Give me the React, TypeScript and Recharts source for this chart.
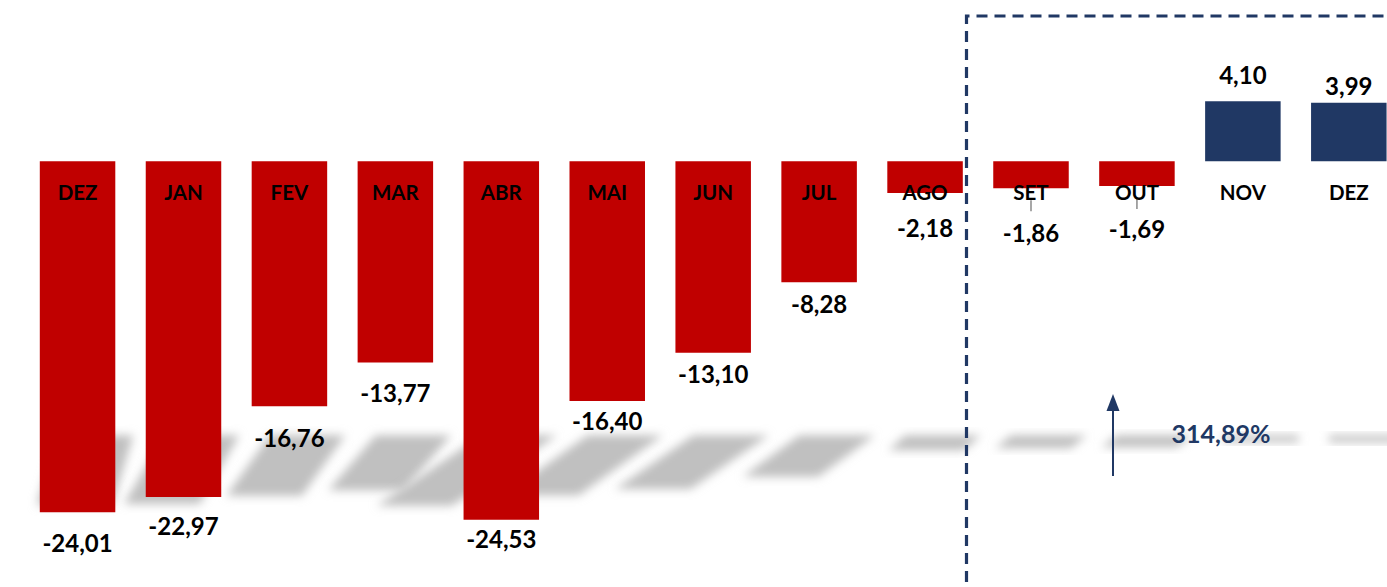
import React from "react";
import { Bar, BarChart, Cell, LabelList, XAxis, YAxis } from "recharts";

const months = ["DEZ", "JAN", "FEV", "MAR", "ABR", "MAI", "JUN", "JUL", "AGO", "SET", "OUT", "NOV", "DEZ"];
const values = [-24.01, -22.97, -16.76, -13.77, -24.53, -16.4, -13.1, -8.28, -2.18, -1.86, -1.69, 4.1, 3.99];
const variation = "314,89%";

// distance (px) between bar end and its value label, as placed in the original
const labelGap = [30, 29, 31, 30, 19, 20, 21, 21, 34, 44, 43, 27, 17];

const RED = "#C00000";
const NAVY = "#203864";
const FONT = "Lato, 'Open Sans', sans-serif";

const data = months.map((m, i) => ({ id: i, month: m, value: values[i] }));

const fmt = (v: number) => v.toFixed(2).replace(".", ",");

function box(p: any) {
  const vb = p.viewBox ?? p;
  const x = Number(vb.x);
  const y = Number(vb.y);
  const w = Number(vb.width);
  const h = Number(vb.height);
  return { x, w, top: Math.min(y, y + h), bottom: Math.max(y, y + h) };
}

// soft perspective "floor" shadow under each bar
function ShadowShape(p: any) {
  const { x, w, top, bottom } = box(p);
  const neg = values[p.index] < 0;
  const len = bottom - top;
  const zero = neg ? top : bottom;
  const floor = zero + 274;
  const off = 18;
  const h = neg ? (110 * len) / (len + 200) : 7;
  const lean = 0.06 + 0.00055 * (x - 40);
  const shift = neg ? len * lean : 0;
  const pts = [
    [x + off, floor],
    [x + w + off, floor],
    [x + w + off - shift, floor + h],
    [x + off - shift, floor + h],
  ]
    .map((q) => q.join(","))
    .join(" ");
  const id = `shadow-blur-${p.index}`;
  return (
    <g>
      <defs>
        <filter id={id} x="-50%" y="-50%" width="200%" height="200%">
          <feGaussianBlur stdDeviation={5} />
        </filter>
      </defs>
      <polygon points={pts} fill="#c0c0c0" filter={`url(#${id})`} />
    </g>
  );
}

function MonthLabel(p: any) {
  const { x, w, top, bottom } = box(p);
  const neg = values[p.index] < 0;
  const zero = neg ? top : bottom;
  return (
    <text
      x={x + w / 2}
      y={zero + 31}
      textAnchor="middle"
      dominantBaseline="central"
      fontFamily={FONT}
      fontWeight={700}
      fontSize={20.5}
      fill="#000"
    >
      {months[p.index]}
    </text>
  );
}

function ValueLabel(p: any) {
  const { x, w, top, bottom } = box(p);
  const v = values[p.index];
  const gap = labelGap[p.index];
  const cx = x + w / 2;
  const y = v < 0 ? bottom + gap : top - gap;
  return (
    <g>
      {v < 0 && gap > 40 && (
        <line x1={cx} x2={cx} y1={bottom + 12} y2={bottom + 23} stroke="#8a8a8a" strokeWidth={1.5} />
      )}
      <text
        x={cx}
        y={y}
        textAnchor="middle"
        dominantBaseline="central"
        fontFamily={FONT}
        fontWeight={700}
        fontSize={24}
        fill="#000"
      >
        {fmt(v)}
      </text>
    </g>
  );
}

export default function App() {
  return (
    <div
      style={{
        position: "fixed",
        left: 0,
        top: 0,
        width: 1387,
        height: 587,
        overflow: "hidden",
        background: "#fff",
        fontFamily: FONT,
      }}
    >
      <BarChart
        width={1402}
        height={587}
        data={data}
        margin={{ top: 15, right: 0, bottom: 16.5, left: 24.8 }}
      >
        <XAxis xAxisId="shadow" dataKey="id" hide />
        <XAxis xAxisId="main" dataKey="id" hide />
        <YAxis hide domain={[-28, 10]} allowDataOverflow />
        <Bar
          xAxisId="shadow"
          dataKey="value"
          barSize={75.5}
          shape={ShadowShape}
          isAnimationActive={false}
        />
        <Bar xAxisId="main" dataKey="value" barSize={75.5} isAnimationActive={false}>
          {data.map((d, i) => (
            <Cell key={i} fill={d.value < 0 ? RED : NAVY} />
          ))}
          <LabelList dataKey="value" content={ValueLabel} />
          <LabelList dataKey="month" content={MonthLabel} />
        </Bar>
      </BarChart>
      <svg
        width={1387}
        height={587}
        style={{ position: "absolute", left: 0, top: 0, pointerEvents: "none" }}
      >
        <path
          d="M 966.5 600 L 966.5 16 L 1400 16"
          fill="none"
          stroke={NAVY}
          strokeWidth={3.2}
          strokeDasharray="11 7"
        />
        <line x1={1113} y1={476} x2={1113} y2={408} stroke={NAVY} strokeWidth={2} />
        <polygon points="1106.5,411 1119.5,411 1113,394" fill={NAVY} />
        <text
          x={1221}
          y={433}
          textAnchor="middle"
          dominantBaseline="central"
          fontFamily={FONT}
          fontWeight={700}
          fontSize={25}
          fill={NAVY}
        >
          {variation}
        </text>
      </svg>
    </div>
  );
}
